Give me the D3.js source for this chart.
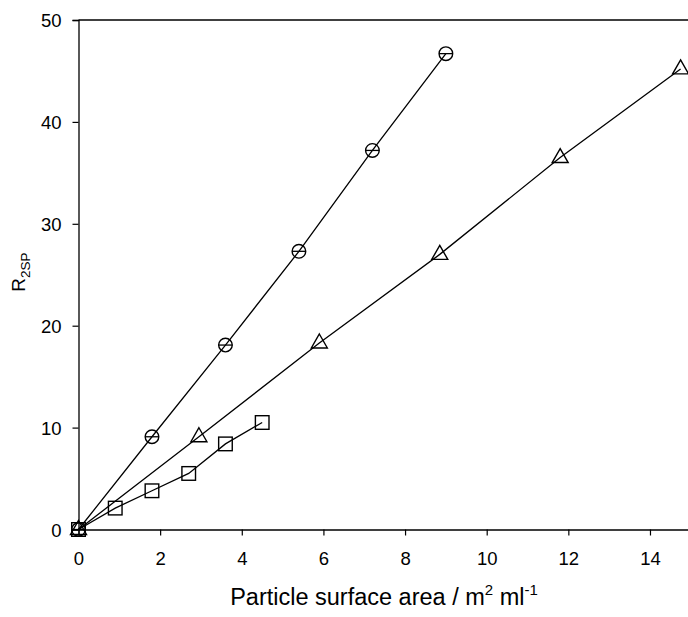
<!DOCTYPE html>
<html>
<head>
<meta charset="utf-8">
<script src="https://cdn.jsdelivr.net/npm/d3@7"></script>
<style>
body { margin: 0; background: #fff; }
text { font-family: "Liberation Sans", Arial, sans-serif; fill: #000; }
</style>
</head>
<body>
<div class="chart"></div>
<script>
// series values
const circleX = [0, 1.8, 3.6, 5.4, 7.2, 9.0];
const circleY = [0, 9.1, 18.1, 27.3, 37.2, 46.7];
const triX = [0, 2.95, 5.9, 8.85, 11.8, 14.75];
const triY = [0, 9.1, 18.3, 27.0, 36.5, 45.2];
const squareX = [0, 0.9, 1.8, 2.7, 3.6, 4.5];
const squareY = [0, 2.1, 3.8, 5.5, 8.4, 10.5];
const xTicks = [0, 2, 4, 6, 8, 10, 12, 14];
const yTicks = [0, 10, 20, 30, 40, 50];

const width = 688;
const height = 617;
const plotLeft = 78.5, plotTop = 20, plotBottom = 529.5;

const svg = d3.select('.chart')
	.append('svg')
	.attr('width', width)
	.attr('height', height);

const x = d3.scaleLinear().domain([0, 15]).range([plotLeft, plotLeft + 15 * 40.82]);
const y = d3.scaleLinear().domain([0, 50]).range([plotBottom, plotTop]);

// frame: top line
svg.append('line')
	.attr('x1', plotLeft).attr('x2', x(15))
	.attr('y1', plotTop).attr('y2', plotTop)
	.attr('stroke', '#000').attr('stroke-width', 1.3);

const xAxis = svg.append('g')
	.attr('transform', 'translate(0,' + plotBottom + ')')
	.call(d3.axisBottom(x).tickValues(xTicks).tickSize(6).tickPadding(16).tickFormat(d3.format('d')));
const yAxis = svg.append('g')
	.attr('transform', 'translate(' + plotLeft + ',0)')
	.call(d3.axisLeft(y).tickValues(yTicks).tickSize(6).tickPadding(11).tickFormat(d3.format('d')));

[xAxis, yAxis].forEach(function(ax) {
	ax.select('.domain').attr('stroke', '#000').attr('stroke-width', 1.3);
	ax.selectAll('.tick line').attr('stroke', '#000').attr('stroke-width', 1.2);
	ax.selectAll('.tick text')
		.attr('font-size', '18.5px')
		.attr('font-family', '"Liberation Sans", Arial, sans-serif')
		.attr('fill', '#000');
});
yAxis.selectAll('.tick text').attr('dy', '0.36em');

// axis titles
const xt = svg.append('text')
	.attr('x', 384).attr('y', 605)
	.attr('text-anchor', 'middle')
	.attr('font-size', '23.5px');
xt.append('tspan').text('Particle surface area / m');
xt.append('tspan').attr('font-size', '15px').attr('dy', -10).text('2');
xt.append('tspan').attr('dy', 10).text(' ml');
xt.append('tspan').attr('font-size', '15px').attr('dy', -10).text('-1');

const yt = svg.append('text')
	.attr('transform', 'translate(25,272) rotate(-90)')
	.attr('text-anchor', 'middle')
	.attr('font-size', '19px');
yt.append('tspan').text('R');
yt.append('tspan').attr('font-size', '13.5px').attr('dy', 5).text('2SP');

const series = [
	{ xs: circleX, ys: circleY, shape: 'circle' },
	{ xs: triX, ys: triY, shape: 'triangle' },
	{ xs: squareX, ys: squareY, shape: 'square' }
];

const line = d3.line()
	.x(function(d) { return x(d[0]); })
	.y(function(d) { return y(d[1]); });

series.forEach(function(s) {
	const pts = s.xs.map(function(v, i) { return [v, s.ys[i]]; });
	svg.append('path')
		.datum(pts)
		.attr('d', line)
		.attr('fill', 'none')
		.attr('stroke', '#000')
		.attr('stroke-width', 1.3);

	const marks = svg.selectAll('.m-' + s.shape)
		.data(pts)
		.enter()
		.append('g')
		.attr('class', 'm-' + s.shape)
		.attr('transform', function(d) { return 'translate(' + x(d[0]) + ',' + y(d[1]) + ')'; });

	if (s.shape == 'circle') {
		marks.append('circle')
			.attr('r', 6.8)
			.attr('fill', 'none')
			.attr('stroke', '#000')
			.attr('stroke-width', 1.4);
		marks.append('line')
			.attr('x1', -6.8).attr('x2', 6.8)
			.attr('stroke', '#000')
			.attr('stroke-width', 1.3);
	} else if (s.shape == 'triangle') {
		marks.append('path')
			.attr('d', 'M0,-9 L8,5 L-8,5 Z')
			.attr('fill', 'none')
			.attr('stroke', '#000')
			.attr('stroke-width', 1.4);
	} else {
		marks.append('rect')
			.attr('x', -6.8).attr('y', -6.8)
			.attr('width', 13.6).attr('height', 13.6)
			.attr('fill', 'none')
			.attr('stroke', '#000')
			.attr('stroke-width', 1.4);
	}
});
</script>
</body>
</html>
